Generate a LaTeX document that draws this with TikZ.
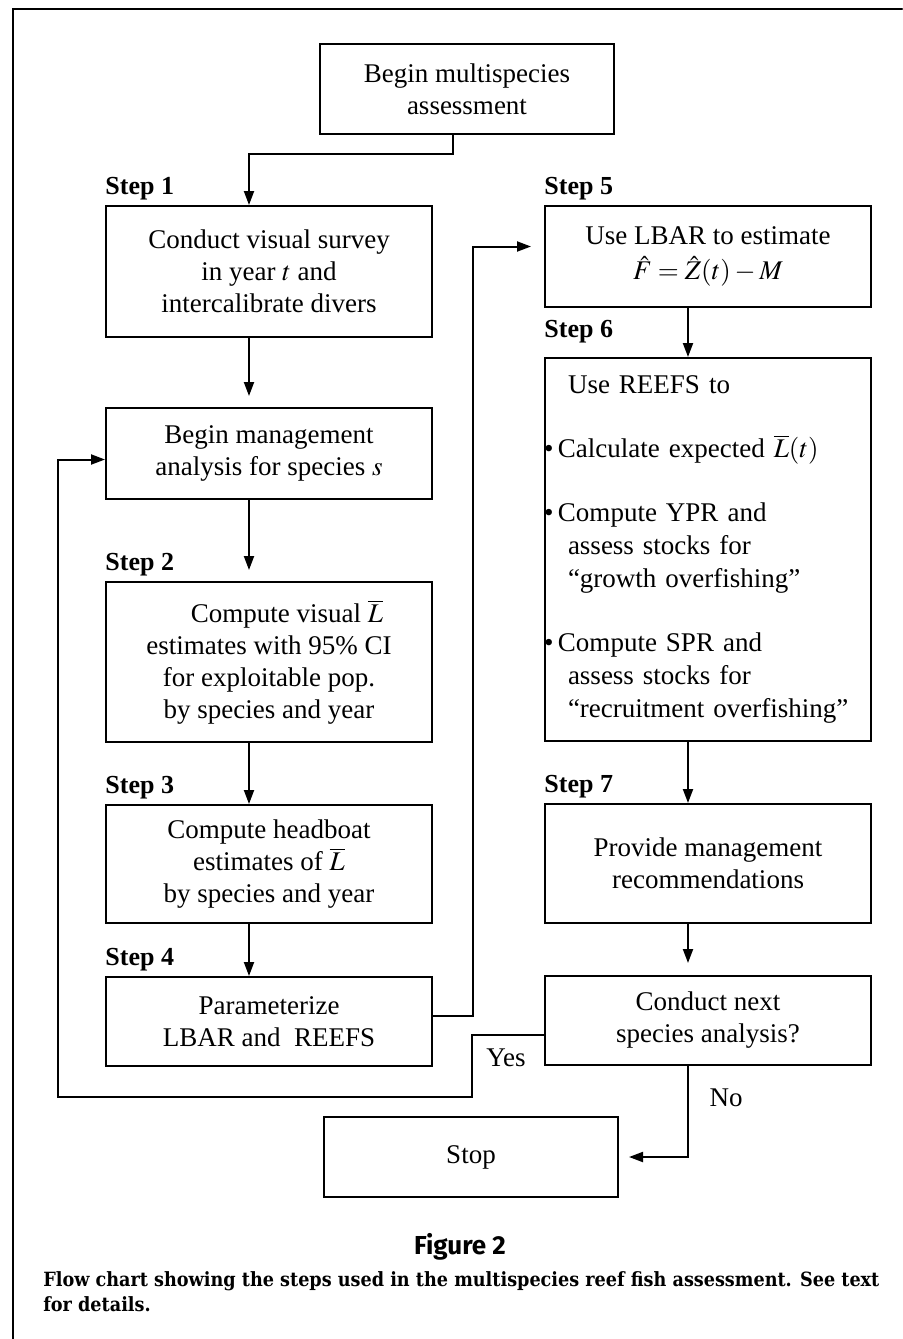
\documentclass[tikz,border=0pt]{standalone}
\usepackage{mathptmx}
\usepackage{fontspec}
\setmainfont{Liberation Serif}
\newfontfamily\figfont{Fira Sans}
\newfontfamily\capfont{DejaVu Serif Condensed}
\usetikzlibrary{arrows.meta,positioning}
\tikzset{
  stepbox/.style={draw, line width=1pt, minimum width=163pt, inner sep=0pt, align=center,
    font=\fontsize{13.5}{16}\selectfont},
  steplbl/.style={anchor=base west, inner sep=0pt, font=\bfseries\fontsize{13}{15}\selectfont},
  flow/.style={->, line width=1pt},
}
\begin{document}
\begin{tikzpicture}[x=0.5pt, y=-0.5pt, >={Triangle[length=7pt,width=5pt]}, line cap=round]
\useasboundingbox (0,0) rectangle (902,1339);
% 外框
\draw[line width=1pt] (13,1339) -- (13,9) -- (902,9);
% 左列
\node[stepbox, minimum width=147pt, minimum height=45pt] (start) at (467,89) {Begin multispecies\\assessment};
\node[stepbox, minimum height=65.5pt] (s1) at (269,271.5) {Conduct visual survey\\in year $t$ and\\intercalibrate divers};
\node[stepbox, minimum height=45.5pt] (mgmt) at (269,453.5) {Begin management\\analysis for species $s$};
\node[stepbox, minimum height=80pt] (s2) at (269,662) {\hspace*{18pt}Compute visual $\overline{L}$\\estimates with 95\% CI\\for exploitable pop.\\by species and year};
\node[stepbox, minimum height=59pt] (s3) at (269,864) {Compute headboat\\estimates of $\overline{L}$\\by species and year};
\node[stepbox, minimum height=44.5pt] (s4) at (269,1021.5) {Parameterize\\LBAR and\ \ REEFS};
% 右列
\node[stepbox, minimum height=50.5pt] (s5) at (708,256.5) {Use LBAR to estimate\\[1.5pt]$\hat{F}=\hat{Z}(t)-M$};
\node[stepbox, minimum height=191.5pt, text width=140pt, inner xsep=11.5pt, align=left,
  font=\fontsize{13.5}{16.5}\selectfont] (s6) at (708,549.5)
  {Use REEFS to\\[15.5pt]
   \hspace*{-5pt}\llap{\textbullet\,}Calculate expected $\overline{L}(t)$\\[15.5pt]
   \hspace*{-5pt}\llap{\textbullet\,}Compute YPR and\\
   assess stocks for\\
   ``growth overfishing''\\[15.5pt]
   \hspace*{-5pt}\llap{\textbullet\,}Compute SPR and\\
   assess stocks for\\
   \mbox{``recruitment overfishing''}};
\node[stepbox, minimum height=59.5pt] (s7) at (708,863.5) {Provide management\\recommendations};
\node[stepbox, minimum height=44.5pt] (next) at (708,1020.5) {Conduct next\\species analysis?};
\node[stepbox, minimum width=147pt, minimum height=40pt] (stop) at (471,1157) {Stop};
% 步骤标签
\node[steplbl] (l1) at ([yshift=5.5pt]s1.north west) {Step 1};
\node[steplbl] (l2) at ([yshift=5.5pt]s2.north west) {Step 2};
\node[steplbl] (l3) at ([yshift=5.5pt]s3.north west) {Step 3};
\node[steplbl] (l4) at ([yshift=5.5pt]s4.north west) {Step 4};
\node[steplbl] (l5) at ([yshift=5.5pt]s5.north west) {Step 5};
\node[steplbl] (l6) at ([yshift=10pt]s6.north west) {Step 6};
\node[steplbl] (l7) at ([yshift=5.5pt]s7.north west) {Step 7};
% 连线
\coordinate (k1) at (249,154);
\draw[flow] ([xshift=-7pt]start.south) |- (k1) -- (k1 |- s1.north);
\draw[flow, shorten >=5.5pt] ([xshift=-10pt]s1.south) -- ([xshift=-10pt]mgmt.north);
\draw[flow, shorten >=5.5pt] ([xshift=-10pt]mgmt.south) -- ([xshift=-10pt]s2.north);
\draw[flow] ([xshift=-10pt]s2.south) -- ([xshift=-10pt]s3.north);
\draw[flow] ([xshift=-10pt]s3.south) -- ([xshift=-10pt]s4.north);
\draw[flow, shorten >=6.5pt] ([yshift=3pt]s4.east) -- ++(20pt,0) |- ([yshift=5pt]s5.west);
\draw[flow] ([xshift=-10pt]s5.south) -- ([xshift=-10pt]s6.north);
\draw[flow] ([xshift=-10pt]s6.south) -- ([xshift=-10pt]s7.north);
\draw[flow, shorten >=6pt] ([xshift=-10pt]s7.south) -- ([xshift=-10pt]next.north);
\coordinate (k3) at (58,1097);
\draw[flow] ([yshift=-7pt]next.west) -- ++(-36pt,0) |- (k3) |- ([yshift=-3pt]mgmt.west);
\draw[flow, shorten >=5pt] ([xshift=-10pt]next.south) |- (stop.east);
\node[font=\fontsize{13.5}{16}\selectfont] (yes) at (506,1058) {Yes};
\node[font=\fontsize{13.5}{16}\selectfont] (no) at (726,1098) {No};
% 图题
\node[font=\figfont\bfseries\fontsize{13}{15}\selectfont] (fig) at (460,1247) {Figure 2};
\node[anchor=north west, align=left, inner sep=0pt, font=\capfont\bfseries\fontsize{9.8}{12.5}\selectfont] (cap) at (43,1271)
  {Flow chart showing the steps used in the multispecies reef fish assessment. See text\\for details.};
\end{tikzpicture}
\end{document}
